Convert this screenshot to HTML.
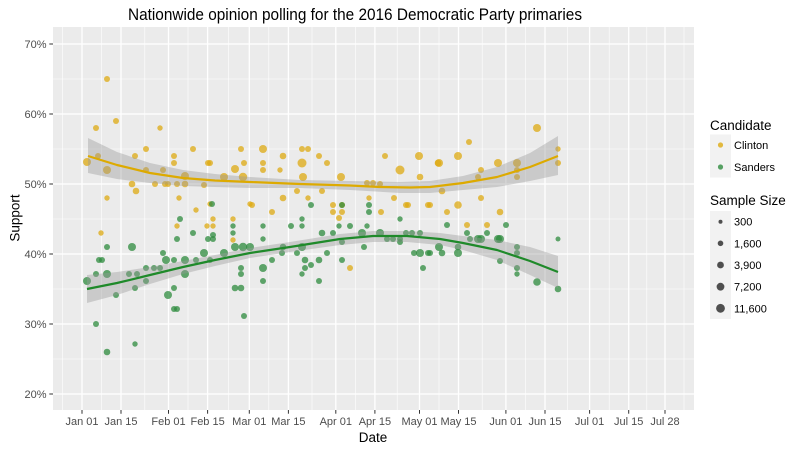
<!DOCTYPE html>
<html><head><meta charset="utf-8"><style>
html,body{margin:0;padding:0;background:#fff;}
svg{display:block;font-family:"Liberation Sans",Arial,sans-serif;}
</style></head><body>
<svg width="810" height="450" viewBox="0 0 810 450" xmlns="http://www.w3.org/2000/svg">
<rect x="0" y="0" width="810" height="450" fill="#fff"/>
<text x="355" y="20" font-size="16.5" text-anchor="middle" textLength="454" lengthAdjust="spacingAndGlyphs" fill="#000">Nationwide opinion polling for the 2016 Democratic Party primaries</text>
<!-- panel -->
<rect x="53" y="27" width="641" height="383" fill="#EBEBEB"/>
<g stroke="#fff" stroke-width="0.6">
<line x1="53" x2="694" y1="359" y2="359"/><line x1="53" x2="694" y1="289" y2="289"/><line x1="53" x2="694" y1="219" y2="219"/><line x1="53" x2="694" y1="149" y2="149"/><line x1="53" x2="694" y1="79" y2="79"/>
<line x1="62.5" x2="62.5" y1="27" y2="410"/><line x1="101.5" x2="101.5" y1="27" y2="410"/><line x1="144.8" x2="144.8" y1="27" y2="410"/><line x1="188" x2="188" y1="27" y2="410"/><line x1="228.5" x2="228.5" y1="27" y2="410"/><line x1="268.8" x2="268.8" y1="27" y2="410"/><line x1="312" x2="312" y1="27" y2="410"/><line x1="355.3" x2="355.3" y1="27" y2="410"/><line x1="397.2" x2="397.2" y1="27" y2="410"/><line x1="439" x2="439" y1="27" y2="410"/><line x1="482.2" x2="482.2" y1="27" y2="410"/><line x1="525.5" x2="525.5" y1="27" y2="410"/><line x1="567.3" x2="567.3" y1="27" y2="410"/><line x1="609.2" x2="609.2" y1="27" y2="410"/><line x1="646.8" x2="646.8" y1="27" y2="410"/><line x1="684" x2="684" y1="27" y2="410"/>
</g>
<g stroke="#fff" stroke-width="1.3">
<line x1="53" x2="694" y1="394" y2="394"/><line x1="53" x2="694" y1="324" y2="324"/><line x1="53" x2="694" y1="254" y2="254"/><line x1="53" x2="694" y1="184" y2="184"/><line x1="53" x2="694" y1="114" y2="114"/><line x1="53" x2="694" y1="44" y2="44"/>
<line x1="82" x2="82" y1="27" y2="410"/><line x1="121" x2="121" y1="27" y2="410"/><line x1="168.5" x2="168.5" y1="27" y2="410"/><line x1="207.6" x2="207.6" y1="27" y2="410"/><line x1="249.3" x2="249.3" y1="27" y2="410"/><line x1="288.4" x2="288.4" y1="27" y2="410"/><line x1="335.8" x2="335.8" y1="27" y2="410"/><line x1="374.9" x2="374.9" y1="27" y2="410"/><line x1="419.5" x2="419.5" y1="27" y2="410"/><line x1="458.5" x2="458.5" y1="27" y2="410"/><line x1="505.9" x2="505.9" y1="27" y2="410"/><line x1="545" x2="545" y1="27" y2="410"/><line x1="589.6" x2="589.6" y1="27" y2="410"/><line x1="628.7" x2="628.7" y1="27" y2="410"/><line x1="665" x2="665" y1="27" y2="410"/>
</g>
<!-- Clinton points -->
<g fill="#DDAA11" fill-opacity="0.75">
<circle cx="87" cy="162" r="4"/><circle cx="96" cy="128" r="3"/><circle cx="107" cy="79" r="3"/><circle cx="116" cy="121" r="3"/><circle cx="98" cy="156" r="3"/><circle cx="107" cy="170" r="4"/><circle cx="107" cy="198" r="2.7"/><circle cx="101" cy="233" r="2.7"/><circle cx="160" cy="128" r="2.7"/>
<circle cx="146" cy="149" r="3"/><circle cx="135" cy="156" r="3"/><circle cx="132" cy="184" r="3.3"/><circle cx="136" cy="191" r="3.3"/><circle cx="155" cy="184" r="3"/><circle cx="165" cy="184" r="3"/><circle cx="168" cy="184" r="3"/><circle cx="177" cy="184" r="3"/><circle cx="185" cy="184" r="3.3"/><circle cx="185" cy="176" r="4"/><circle cx="179" cy="198" r="2.7"/><circle cx="196" cy="210" r="2.7"/><circle cx="174" cy="156" r="3"/><circle cx="174" cy="163" r="3"/><circle cx="193" cy="149" r="3"/><circle cx="208" cy="163" r="3"/><circle cx="210" cy="163" r="3"/><circle cx="146" cy="170" r="3"/><circle cx="163" cy="170" r="3"/><circle cx="204" cy="185" r="3"/><circle cx="224" cy="177" r="4"/><circle cx="235" cy="169" r="4"/><circle cx="243" cy="177" r="4.2"/><circle cx="241" cy="149" r="3"/><circle cx="244" cy="163" r="3"/><circle cx="177" cy="226" r="2.7"/><circle cx="207" cy="226" r="2.7"/><circle cx="213" cy="226" r="2.7"/><circle cx="213" cy="219" r="2.7"/><circle cx="233" cy="219" r="2.7"/><circle cx="233" cy="240" r="2.7"/><circle cx="210" cy="204" r="2.7"/><circle cx="250" cy="204" r="2.7"/>
<circle cx="263" cy="149" r="4"/><circle cx="302" cy="149" r="3"/><circle cx="308" cy="149" r="3"/><circle cx="283" cy="156" r="3.3"/><circle cx="319" cy="156" r="3"/><circle cx="263" cy="163" r="3"/><circle cx="302" cy="163" r="4.5"/><circle cx="327" cy="163" r="3"/><circle cx="263" cy="170" r="3"/><circle cx="280" cy="170" r="2.7"/><circle cx="303" cy="177" r="4"/><circle cx="341" cy="177" r="4"/><circle cx="385" cy="156" r="3"/><circle cx="400" cy="170" r="4.5"/><circle cx="419" cy="156" r="4"/><circle cx="438" cy="163" r="3.3"/><circle cx="420" cy="177" r="3.3"/><circle cx="367" cy="183" r="3"/><circle cx="373" cy="183" r="3"/><circle cx="380" cy="184" r="3"/><circle cx="297" cy="191" r="3"/><circle cx="322" cy="191" r="3"/><circle cx="283" cy="198" r="3.3"/><circle cx="308" cy="198" r="2.7"/><circle cx="369" cy="198" r="2.7"/><circle cx="394" cy="198" r="3"/><circle cx="252" cy="205" r="3"/><circle cx="272" cy="212" r="3"/><circle cx="333" cy="205" r="3"/><circle cx="342" cy="205" r="3"/><circle cx="333" cy="212" r="3"/><circle cx="342" cy="212" r="3"/><circle cx="381" cy="212" r="3"/><circle cx="406" cy="205" r="3"/><circle cx="408" cy="205" r="3"/><circle cx="428" cy="205" r="3"/><circle cx="339" cy="218" r="3"/><circle cx="350" cy="268" r="3"/>
<circle cx="537" cy="128" r="4"/><circle cx="469" cy="142" r="3"/><circle cx="458" cy="156" r="4"/><circle cx="439" cy="163" r="4"/><circle cx="498" cy="163" r="4"/><circle cx="517" cy="163" r="4"/><circle cx="481" cy="170" r="3"/><circle cx="478" cy="177" r="3"/><circle cx="517" cy="170" r="3"/><circle cx="517" cy="177" r="3"/><circle cx="558" cy="149" r="2.7"/><circle cx="558" cy="163" r="3"/><circle cx="442" cy="191" r="3.3"/><circle cx="481" cy="198" r="3"/><circle cx="458" cy="205" r="3.8"/><circle cx="447" cy="212" r="3"/><circle cx="500" cy="212" r="3.3"/><circle cx="467" cy="225" r="3"/><circle cx="487" cy="225" r="3"/><circle cx="430" cy="205" r="3"/>
</g>
<!-- Sanders points -->
<g fill="#2E8B3E" fill-opacity="0.75">
<circle cx="87" cy="281" r="4"/><circle cx="96" cy="274" r="3"/><circle cx="107" cy="274" r="4"/><circle cx="99" cy="260" r="3"/><circle cx="102" cy="260" r="3"/><circle cx="107" cy="247" r="3"/><circle cx="116" cy="295" r="3"/><circle cx="96" cy="324" r="3"/><circle cx="107" cy="352" r="3.3"/><circle cx="135" cy="344" r="2.7"/>
<circle cx="132" cy="247" r="4"/><circle cx="129" cy="274" r="3"/><circle cx="137" cy="274" r="3"/><circle cx="135" cy="288" r="3"/><circle cx="146" cy="268" r="3"/><circle cx="154" cy="268" r="3"/><circle cx="160" cy="268" r="3"/><circle cx="146" cy="281" r="3"/><circle cx="163" cy="253" r="3"/><circle cx="166" cy="260" r="4"/><circle cx="174" cy="260" r="3"/><circle cx="174" cy="288" r="3"/><circle cx="168" cy="295" r="4"/><circle cx="174" cy="309" r="3"/><circle cx="177" cy="309" r="3"/><circle cx="185" cy="260" r="4"/><circle cx="185" cy="274" r="4"/><circle cx="196" cy="260" r="3"/><circle cx="204" cy="253" r="4"/><circle cx="210" cy="260" r="3"/><circle cx="224" cy="253" r="4"/><circle cx="235" cy="247" r="4"/><circle cx="243" cy="247" r="4.2"/><circle cx="241" cy="268" r="3"/><circle cx="241" cy="274" r="3"/><circle cx="235" cy="288" r="3.3"/><circle cx="241" cy="288" r="3.3"/><circle cx="244" cy="316" r="3"/><circle cx="180" cy="219" r="3"/><circle cx="193" cy="233" r="3"/><circle cx="177" cy="239" r="3"/><circle cx="208" cy="239" r="3"/><circle cx="213" cy="239" r="3"/><circle cx="213" cy="235" r="3"/><circle cx="212" cy="204" r="3"/><circle cx="233" cy="226" r="2.7"/><circle cx="233" cy="233" r="2.7"/><circle cx="250" cy="247" r="4"/>
<circle cx="263" cy="268" r="4"/><circle cx="263" cy="281" r="3"/><circle cx="272" cy="260" r="3"/><circle cx="263" cy="239" r="2.7"/><circle cx="263" cy="226" r="2.7"/><circle cx="283" cy="247" r="3.3"/><circle cx="282" cy="253" r="3"/><circle cx="291" cy="226" r="3"/><circle cx="302" cy="219" r="2.7"/><circle cx="302" cy="226" r="2.7"/><circle cx="311" cy="205" r="3"/><circle cx="297" cy="253" r="3"/><circle cx="302" cy="247" r="4"/><circle cx="305" cy="260" r="3.3"/><circle cx="305" cy="268" r="3"/><circle cx="311" cy="265" r="3"/><circle cx="302" cy="274" r="2.7"/><circle cx="319" cy="260" r="3.3"/><circle cx="319" cy="281" r="3"/><circle cx="322" cy="233" r="3.3"/><circle cx="327" cy="253" r="3"/><circle cx="333" cy="233" r="3"/><circle cx="339" cy="226" r="2.7"/><circle cx="342" cy="205" r="3"/><circle cx="342" cy="242" r="3"/><circle cx="342" cy="260" r="3"/><circle cx="350" cy="226" r="3"/><circle cx="362" cy="233" r="4"/><circle cx="364" cy="247" r="3"/><circle cx="367" cy="226" r="2.7"/><circle cx="369" cy="205" r="3"/><circle cx="369" cy="212" r="3"/><circle cx="380" cy="233" r="4"/><circle cx="387" cy="239" r="3"/><circle cx="400" cy="219" r="2.7"/><circle cx="400" cy="242" r="3"/><circle cx="406" cy="233" r="3"/><circle cx="412" cy="233" r="3"/><circle cx="420" cy="233" r="3"/><circle cx="414" cy="253" r="3"/><circle cx="420" cy="253" r="4"/><circle cx="428" cy="253" r="3"/><circle cx="423" cy="268" r="3"/><circle cx="439" cy="247" r="4"/><circle cx="393" cy="239" r="3"/><circle cx="400" cy="239" r="3"/>
<circle cx="447" cy="225" r="3"/><circle cx="506" cy="225" r="3"/><circle cx="467" cy="233" r="3"/><circle cx="487" cy="233" r="3"/><circle cx="470" cy="239" r="3"/><circle cx="478" cy="239" r="4"/><circle cx="481" cy="239" r="4"/><circle cx="498" cy="239" r="4"/><circle cx="500" cy="239" r="4"/><circle cx="558" cy="239" r="2.5"/><circle cx="442" cy="253" r="3.3"/><circle cx="458" cy="247" r="3.3"/><circle cx="458" cy="253" r="4"/><circle cx="430" cy="253" r="3"/><circle cx="517" cy="247" r="3"/><circle cx="517" cy="253" r="3"/><circle cx="500" cy="261" r="3"/><circle cx="517" cy="268" r="3"/><circle cx="517" cy="274" r="2.7"/><circle cx="537" cy="282" r="3.8"/><circle cx="558" cy="289" r="3.3"/>
</g>
<!-- ribbons -->
<path d="M88,138 L117,152 L150,163 L183,170 L215,174 L250,177 L300,180 L350,181 L400,182 L430,181 L463,176 L497,167 L530,153 L558,136 L558,175 L530,181 L497,187 L463,190 L430,193 L400,193 L350,190 L300,188 L250,188 L215,187 L183,186 L150,183 L117,179 L88,173 Z" fill="#999" fill-opacity="0.4"/>
<path d="M87,275 L117,272 L150,267 L183,261 L215,255 L250,248 L290,242 L340,234 L373,231 L407,231 L440,233 L463,236 L497,240 L530,247 L558,256 L558,288 L530,275 L497,260 L463,250 L440,245 L407,242 L373,242 L340,245 L290,252 L250,258 L215,266 L183,274 L150,284 L117,295 L87,303 Z" fill="#999" fill-opacity="0.4"/>
<!-- lines -->
<polyline points="88,156 117,165 150,173 183,178 215,180.5 250,182 300,184 350,185.5 380,187 410,187.5 430,187 463,183 497,177 530,167 558,156" fill="none" stroke="#DDAA00" stroke-width="2.2" stroke-linejoin="round"/>
<polyline points="87,289 117,283 150,275 183,267 215,260 250,253 290,247 340,239 373,236 407,236 440,239 463,243 497,250 530,261 558,272" fill="none" stroke="#1F8A2A" stroke-width="2.2" stroke-linejoin="round"/>
<!-- axes ticks -->
<g stroke="#333" stroke-width="1">
<line x1="49.3" x2="53" y1="394" y2="394"/><line x1="49.3" x2="53" y1="324" y2="324"/><line x1="49.3" x2="53" y1="254" y2="254"/><line x1="49.3" x2="53" y1="184" y2="184"/><line x1="49.3" x2="53" y1="114" y2="114"/><line x1="49.3" x2="53" y1="44" y2="44"/>
<line x1="82" x2="82" y1="410" y2="413.7"/><line x1="121" x2="121" y1="410" y2="413.7"/><line x1="168.5" x2="168.5" y1="410" y2="413.7"/><line x1="207.6" x2="207.6" y1="410" y2="413.7"/><line x1="249.3" x2="249.3" y1="410" y2="413.7"/><line x1="288.4" x2="288.4" y1="410" y2="413.7"/><line x1="335.8" x2="335.8" y1="410" y2="413.7"/><line x1="374.9" x2="374.9" y1="410" y2="413.7"/><line x1="419.5" x2="419.5" y1="410" y2="413.7"/><line x1="458.5" x2="458.5" y1="410" y2="413.7"/><line x1="505.9" x2="505.9" y1="410" y2="413.7"/><line x1="545" x2="545" y1="410" y2="413.7"/><line x1="589.6" x2="589.6" y1="410" y2="413.7"/><line x1="628.7" x2="628.7" y1="410" y2="413.7"/><line x1="665" x2="665" y1="410" y2="413.7"/>
</g>
<g font-size="11" fill="#4D4D4D" text-anchor="end">
<text x="46.5" y="398">20%</text><text x="46.5" y="328">30%</text><text x="46.5" y="258">40%</text><text x="46.5" y="188">50%</text><text x="46.5" y="118">60%</text><text x="46.5" y="48">70%</text>
</g>
<g font-size="11" fill="#4D4D4D" text-anchor="middle">
<text x="82" y="425">Jan 01</text><text x="121" y="425">Jan 15</text><text x="168.5" y="425">Feb 01</text><text x="207.6" y="425">Feb 15</text><text x="249.3" y="425">Mar 01</text><text x="288.4" y="425">Mar 15</text><text x="335.8" y="425">Apr 01</text><text x="374.9" y="425">Apr 15</text><text x="419.5" y="425">May 01</text><text x="458.5" y="425">May 15</text><text x="505.9" y="425">Jun 01</text><text x="545" y="425">Jun 15</text><text x="589.6" y="425">Jul 01</text><text x="628.7" y="425">Jul 15</text><text x="665" y="425">Jul 28</text>
</g>
<text x="373" y="442" font-size="13.5" text-anchor="middle" fill="#000">Date</text>
<text x="0" y="0" font-size="13.5" text-anchor="middle" fill="#000" transform="translate(19.5,218) rotate(-90)">Support</text>
<!-- legend -->
<text x="710" y="130" font-size="13.5" fill="#000">Candidate</text>
<rect x="710" y="134.5" width="21" height="21.5" fill="#F2F2F2"/>
<rect x="710" y="156" width="21" height="21.5" fill="#F2F2F2"/>
<circle cx="720.5" cy="145" r="2.6" fill="#DDAA11" fill-opacity="0.8"/>
<circle cx="720.5" cy="167" r="2.6" fill="#2E8B3E" fill-opacity="0.8"/>
<text x="734" y="149" font-size="11" fill="#000">Clinton</text>
<text x="734" y="171" font-size="11" fill="#000">Sanders</text>
<text x="710" y="205" font-size="13.5" fill="#000">Sample Size</text>
<rect x="710" y="211" width="21" height="108" fill="#F2F2F2"/>
<g fill="#333" fill-opacity="0.85">
<circle cx="720.5" cy="221.7" r="2"/><circle cx="720.5" cy="243.3" r="2.8"/><circle cx="720.5" cy="265" r="3.4"/><circle cx="720.5" cy="286.7" r="3.9"/><circle cx="720.5" cy="308.3" r="4.4"/>
</g>
<g font-size="11" fill="#000">
<text x="734" y="225.7">300</text><text x="734" y="247.3">1,600</text><text x="734" y="269">3,900</text><text x="734" y="290.7">7,200</text><text x="734" y="312.3">11,600</text>
</g>
</svg>
</body></html>
